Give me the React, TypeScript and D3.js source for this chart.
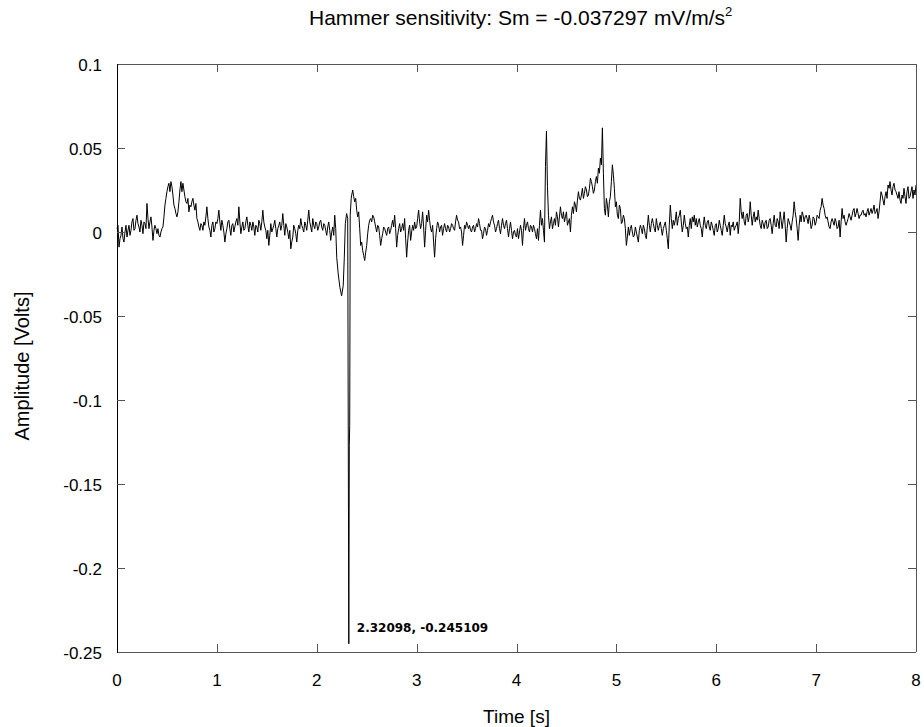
import React from "react";
import * as d3 from "d3";

// Sampling step of the base record (seconds); "mid" arrays hold the samples halfway between
const sampleStepS = 0.02;

// Amplitude [V], one array per second, 50 samples each at t = sec + i*0.02
const amplitudeSec0 = [
  0.002, -0.009, -0.002, -0.004, 0.0, -0.003, 0.004, 0.001, 0.008, 0.002,
  0.010, 0.003, 0.007, -0.001, 0.005, 0.017, 0.002, 0.009, -0.005, 0.004,
  -0.001, -0.002, 0.0, 0.003, 0.016, 0.024, 0.029, 0.030, 0.022, 0.014,
  0.009, 0.018, 0.030, 0.029, 0.021, 0.017, 0.012, 0.015, 0.020, 0.013,
  0.008, 0.003, 0.005, 0.001, 0.004, 0.015, 0.003, -0.003, 0.006, 0.002,
];
const amplitudeSec1 = [
  0.005, 0.013, 0.001, 0.004, -0.006, 0.002, 0.007, -0.002, 0.005, 0.003,
  0.008, 0.015, -0.001, 0.006, 0.002, 0.009, 0.0, 0.004, 0.006, -0.002,
  0.003, 0.007, 0.001, 0.013, 0.003, -0.004, -0.008, 0.005, 0.002, 0.007,
  -0.003, 0.004, 0.001, 0.011, -0.002, 0.003, -0.004, -0.010, -0.003, 0.002,
  -0.006, 0.004, 0.008, 0.002, 0.006, 0.001, 0.013, 0.003, 0.008, 0.002,
];
const amplitudeSec2 = [
  0.005, 0.003, 0.007, 0.001, 0.004, -0.002, 0.006, -0.005, 0.003, 0.010,
  -0.015, -0.027, -0.036, -0.034, 0.0, 0.011, 0.008, 0.020, 0.025, 0.018,
  0.013, 0.012, -0.008, -0.011, -0.017, -0.008, 0.004, 0.008, 0.010, 0.006,
  0.0, 0.003, -0.008, -0.001, 0.002, -0.002, 0.003, 0.001, 0.007, 0.010,
  -0.009, 0.002, 0.0, 0.005, 0.008, -0.015, 0.001, -0.005, 0.004, 0.006,
];
const amplitudeSec3 = [
  0.003, 0.013, 0.002, 0.012, -0.009, 0.010, 0.013, 0.002, 0.004, -0.015,
  0.002, 0.004, 0.003, -0.002, 0.005, 0.0, 0.003, 0.002, 0.004, 0.001,
  0.010, 0.006, 0.003, -0.008, 0.004, 0.006, 0.002, 0.001, 0.003, 0.0,
  0.005, 0.008, 0.001, -0.004, 0.003, -0.002, 0.005, 0.006, 0.010, 0.004,
  0.002, 0.007, -0.001, 0.008, 0.002, 0.007, -0.003, 0.006, -0.004, 0.001,
];
const amplitudeSec4 = [
  -0.003, -0.004, 0.004, -0.008, 0.008, 0.004, 0.002, 0.004, 0.0, 0.002,
  -0.004, -0.005, 0.013, 0.008, -0.006, 0.060, 0.010, 0.006, 0.002, 0.008,
  0.012, 0.003, 0.015, 0.008, 0.006, 0.012, 0.006, 0.0, 0.015, 0.018,
  0.012, 0.024, 0.019, 0.026, 0.023, 0.025, 0.022, 0.032, 0.027, 0.025,
  0.033, 0.038, 0.044, 0.062, 0.014, 0.020, 0.009, 0.021, 0.040, 0.026,
];
const amplitudeSec5 = [
  0.018, 0.008, 0.014, 0.006, 0.008, -0.008, 0.003, 0.002, 0.0, -0.002,
  0.0, -0.006, 0.004, -0.001, 0.002, -0.004, 0.010, 0.0, 0.008, 0.002,
  0.008, 0.001, 0.006, -0.002, 0.004, 0.001, -0.010, 0.016, 0.002, 0.004,
  0.012, 0.008, 0.013, 0.0, 0.010, 0.002, -0.003, 0.008, 0.009, 0.010,
  0.008, 0.006, 0.004, -0.003, 0.009, 0.002, 0.007, 0.001, 0.004, -0.002,
];
const amplitudeSec6 = [
  0.005, 0.002, 0.004, -0.002, 0.010, 0.003, 0.004, -0.002, 0.003, 0.001,
  0.004, -0.001, 0.020, 0.008, 0.006, 0.010, 0.006, 0.018, 0.004, 0.012,
  0.009, 0.013, 0.004, 0.007, 0.002, 0.007, 0.003, 0.008, -0.001, 0.010,
  0.003, 0.006, 0.012, 0.002, 0.012, -0.006, 0.008, 0.004, 0.006, 0.018,
  0.008, -0.005, 0.010, 0.012, 0.006, 0.010, 0.005, 0.007, 0.004, 0.008,
];
const amplitudeSec7 = [
  0.006, 0.009, 0.013, 0.020, 0.014, 0.008, 0.006, 0.002, 0.008, 0.004,
  0.006, 0.003, -0.003, 0.014, 0.010, 0.004, 0.008, 0.009, 0.010, 0.014,
  0.011, 0.011, 0.010, 0.012, 0.010, 0.009, 0.014, 0.012, 0.011, 0.016,
  0.012, 0.008, 0.018, 0.022, 0.016, 0.024, 0.028, 0.030, 0.022, 0.029,
  0.024, 0.020, 0.019, 0.022, 0.026, 0.017, 0.027, 0.021, 0.027, 0.025,
];
const amplitudeEnd = [0.028];

// Amplitude [V] of the in-between samples, t = sec + 0.01 + i*0.02
const amplitudeMid0 = [
  0.004, -0.004, 0.003, -0.006, 0.004, 0.001, -0.002, 0.006, 0.001, 0.007,
  0.005, 0.0, 0.004, 0.006, 0.002, 0.008, 0.006, 0.003, 0.001, 0.002,
  0.002, -0.003, 0.002, 0.009, 0.020, 0.027, 0.024, 0.027, 0.016, 0.011,
  0.012, 0.025, 0.024, 0.025, 0.018, 0.020, 0.016, 0.018, 0.016, 0.017,
  0.006, 0.001, 0.004, 0.006, 0.009, 0.008, 0.001, 0.004, 0.0, 0.006,
];
const amplitudeMid1 = [
  0.008, 0.006, 0.007, 0.0, -0.001, 0.006, 0.002, 0.004, 0.0, 0.006,
  0.004, 0.006, 0.003, 0.001, 0.006, 0.004, 0.006, 0.001, 0.003, 0.004,
  0.0, 0.005, 0.006, 0.006, 0.001, 0.001, -0.002, 0.0, 0.004, 0.002,
  0.002, 0.006, 0.004, 0.004, 0.005, 0.0, 0.001, -0.006, 0.004, -0.001,
  0.001, 0.002, 0.004, 0.0, 0.004, 0.007, 0.006, 0.0, 0.004, 0.006,
];
const amplitudeMid2 = [
  0.001, 0.006, 0.003, 0.005, 0.001, 0.003, 0.001, 0.0, -0.002, 0.002,
  -0.020, -0.032, -0.038, -0.025, 0.006, 0.008, -0.115, 0.022, 0.021, 0.020,
  0.009, 0.002, -0.006, -0.014, -0.012, -0.001, 0.007, 0.006, 0.009, 0.003,
  0.004, -0.002, -0.004, 0.003, 0.0, 0.002, -0.001, 0.004, 0.003, 0.002,
  -0.002, 0.005, 0.002, 0.001, -0.004, -0.006, 0.004, 0.0, 0.001, 0.002,
];
const amplitudeMid3 = [
  0.008, 0.006, 0.005, 0.003, 0.001, 0.006, 0.007, 0.0, -0.006, -0.004,
  0.006, 0.0, 0.004, 0.002, 0.002, 0.004, 0.0, 0.005, 0.002, 0.006,
  0.007, 0.002, 0.0, -0.002, 0.002, 0.004, 0.004, 0.0, 0.004, 0.002,
  0.003, 0.005, 0.001, -0.001, 0.002, 0.001, 0.003, 0.008, 0.006, 0.0,
  0.005, 0.002, 0.004, 0.004, 0.005, 0.002, 0.002, 0.001, 0.0, -0.002,
];
const amplitudeMid4 = [
  0.002, 0.0, 0.001, 0.002, 0.001, 0.006, 0.0, 0.003, 0.004, -0.001,
  0.002, 0.004, 0.004, 0.001, 0.039, 0.027, 0.002, 0.009, 0.005, 0.004,
  0.009, 0.009, 0.010, 0.012, 0.009, 0.004, 0.008, 0.010, 0.011, 0.016,
  0.019, 0.020, 0.022, 0.020, 0.027, 0.021, 0.026, 0.030, 0.023, 0.030,
  0.029, 0.035, 0.040, 0.035, 0.010, 0.016, 0.018, 0.030, 0.034, 0.015,
];
const amplitudeMid5 = [
  0.010, 0.016, 0.005, 0.010, 0.002, -0.003, -0.002, 0.004, -0.003, 0.003,
  -0.003, 0.001, 0.002, 0.004, -0.002, 0.003, 0.004, 0.005, 0.005, 0.0,
  0.004, 0.004, 0.002, 0.002, 0.006, -0.004, 0.004, 0.008, 0.007, 0.007,
  0.004, 0.010, 0.006, 0.004, 0.005, 0.003, 0.004, 0.002, 0.006, 0.004,
  0.003, 0.008, 0.002, 0.004, 0.004, 0.006, 0.003, 0.006, 0.001, 0.004,
];
const amplitudeMid6 = [
  0.0, 0.007, 0.001, 0.004, 0.005, 0.0, 0.006, 0.004, 0.006, 0.003,
  0.006, 0.006, 0.012, 0.012, 0.004, 0.011, 0.009, 0.010, 0.009, 0.006,
  0.007, 0.008, 0.002, 0.005, 0.006, 0.002, 0.007, 0.004, 0.005, 0.004,
  0.008, 0.002, 0.007, 0.007, 0.004, 0.002, 0.006, 0.001, 0.010, 0.012,
  0.002, 0.004, 0.006, 0.010, 0.009, 0.008, 0.010, 0.002, 0.009, 0.004,
];
const amplitudeMid7 = [
  0.010, 0.008, 0.015, 0.016, 0.010, 0.009, 0.003, 0.006, 0.006, 0.008,
  0.002, 0.007, 0.006, 0.008, 0.006, 0.006, 0.011, 0.007, 0.013, 0.009,
  0.014, 0.008, 0.010, 0.013, 0.011, 0.012, 0.010, 0.014, 0.013, 0.011,
  0.014, 0.012, 0.024, 0.019, 0.021, 0.020, 0.026, 0.025, 0.027, 0.025,
  0.022, 0.024, 0.017, 0.020, 0.021, 0.024, 0.020, 0.024, 0.020, 0.022,
];

// Finely sampled hammer impact (replaces the regular samples in its span)
const impactTimeS = [2.2, 2.215, 2.232, 2.249, 2.265, 2.276, 2.286, 2.299, 2.31, 2.32098, 2.326, 2.33, 2.335, 2.345];
const impactAmplitudeV = [-0.015, -0.025, -0.033, -0.038, -0.032, -0.015, 0.005, 0.011, 0.008, -0.245109, -0.127, -0.115, 0.01, 0.02];

const xTicks = [0, 1, 2, 3, 4, 5, 6, 7, 8];
const yTicks = [0.1, 0.05, 0, -0.05, -0.1, -0.15, -0.2, -0.25];
const yTickLabels = ["0.1", "0.05", "0", "-0.05", "-0.1", "-0.15", "-0.2", "-0.25"];

const minTimeS = 2.32098;
const minAmplitudeV = -0.245109;

const W = 924;
const H = 727;
const left = 117;
const right = 916;
const top = 64;
const bottom = 652;

type Pt = { t: number; v: number };

export default function App() {
  const x = d3.scaleLinear().domain([0, 8]).range([left, right]);
  const y = d3.scaleLinear().domain([-0.25, 0.1]).range([bottom, top]);

  const base: Pt[] = [
    ...amplitudeSec0, ...amplitudeSec1, ...amplitudeSec2, ...amplitudeSec3,
    ...amplitudeSec4, ...amplitudeSec5, ...amplitudeSec6, ...amplitudeSec7, ...amplitudeEnd,
  ].map((v, i) => ({ t: +(i * sampleStepS).toFixed(4), v }));
  const mid: Pt[] = [
    ...amplitudeMid0, ...amplitudeMid1, ...amplitudeMid2, ...amplitudeMid3,
    ...amplitudeMid4, ...amplitudeMid5, ...amplitudeMid6, ...amplitudeMid7,
  ].map((v, i) => ({ t: +(i * sampleStepS + sampleStepS / 2).toFixed(4), v }));
  const iStart = impactTimeS[0];
  const iEnd = impactTimeS[impactTimeS.length - 1];
  const impact: Pt[] = impactTimeS.map((t, i) => ({ t, v: impactAmplitudeV[i] }));
  const data = base
    .concat(mid)
    .filter((d) => d.t < iStart - 1e-6 || d.t > iEnd + 1e-6)
    .concat(impact)
    .sort((a, b) => a.t - b.t);

  const line = d3
    .line<Pt>()
    .x((d) => x(d.t))
    .y((d) => y(d.v));

  const frame = "#555";
  const font = "'Liberation Sans', Arial, sans-serif";
  const tickLen = 8;

  return (
    <svg
      width={W}
      height={H}
      style={{ position: "absolute", left: 0, top: 0, background: "#fff" }}
      fontFamily={font}
    >
      <rect x={0} y={0} width={W} height={H} fill="#fff" />
      {/* title */}
      <text x={309} y={25} fontSize={21} fill="#000">
        Hammer sensitivity: Sm = -0.037297 mV/m/s
        <tspan fontSize={13} dy={-9}>2</tspan>
      </text>

      {/* trace */}
      <path d={line(data) || ""} fill="none" stroke="#000" strokeWidth={1} />

      {/* frame */}
      <line x1={left} x2={right} y1={top + 0.5} y2={top + 0.5} stroke={frame} />
      <line x1={left} x2={right} y1={bottom + 0.5} y2={bottom + 0.5} stroke={frame} />
      <line x1={right + 0.5} x2={right + 0.5} y1={top} y2={bottom} stroke={frame} />
      <line x1={left + 0.5} x2={left + 0.5} y1={top} y2={bottom + 1} stroke="#000" />

      {/* x ticks */}
      {xTicks.map((t) => (
        <g key={"x" + t}>
          {t > 0 && t < 8 && (
            <>
              <line x1={Math.round(x(t)) + 0.5} x2={Math.round(x(t)) + 0.5} y1={bottom} y2={bottom - tickLen} stroke={frame} />
              <line x1={Math.round(x(t)) + 0.5} x2={Math.round(x(t)) + 0.5} y1={top} y2={top + tickLen} stroke={frame} />
            </>
          )}
          <text x={x(t)} y={686} fontSize={17} textAnchor="middle" fill="#000">
            {t}
          </text>
        </g>
      ))}

      {/* y ticks */}
      {yTicks.map((v, i) => (
        <g key={"y" + v}>
          {v < 0.1 && v > -0.25 && (
            <>
              <line x1={left} x2={left + tickLen} y1={Math.round(y(v)) + 0.5} y2={Math.round(y(v)) + 0.5} stroke={frame} />
              <line x1={right} x2={right - tickLen} y1={Math.round(y(v)) + 0.5} y2={Math.round(y(v)) + 0.5} stroke={frame} />
            </>
          )}
          <text x={102} y={y(v) + 7} fontSize={17} textAnchor="end" fill="#000">
            {yTickLabels[i]}
          </text>
        </g>
      ))}

      {/* annotation of minimum */}
      <text
        x={x(minTimeS) + 8}
        y={632}
        fontSize={12}
        fontWeight="bold"
        fontFamily="'DejaVu Sans', sans-serif"
        fill="#000"
      >
        {`${minTimeS}, ${minAmplitudeV}`}
      </text>

      {/* axis labels */}
      <text x={(left + right) / 2} y={723} fontSize={19} textAnchor="middle" fill="#000">
        Time [s]
      </text>
      <text
        transform={`translate(29, 366) rotate(-90)`}
        fontSize={20}
        textAnchor="middle"
        fill="#000"
      >
        Amplitude [Volts]
      </text>
    </svg>
  );
}
